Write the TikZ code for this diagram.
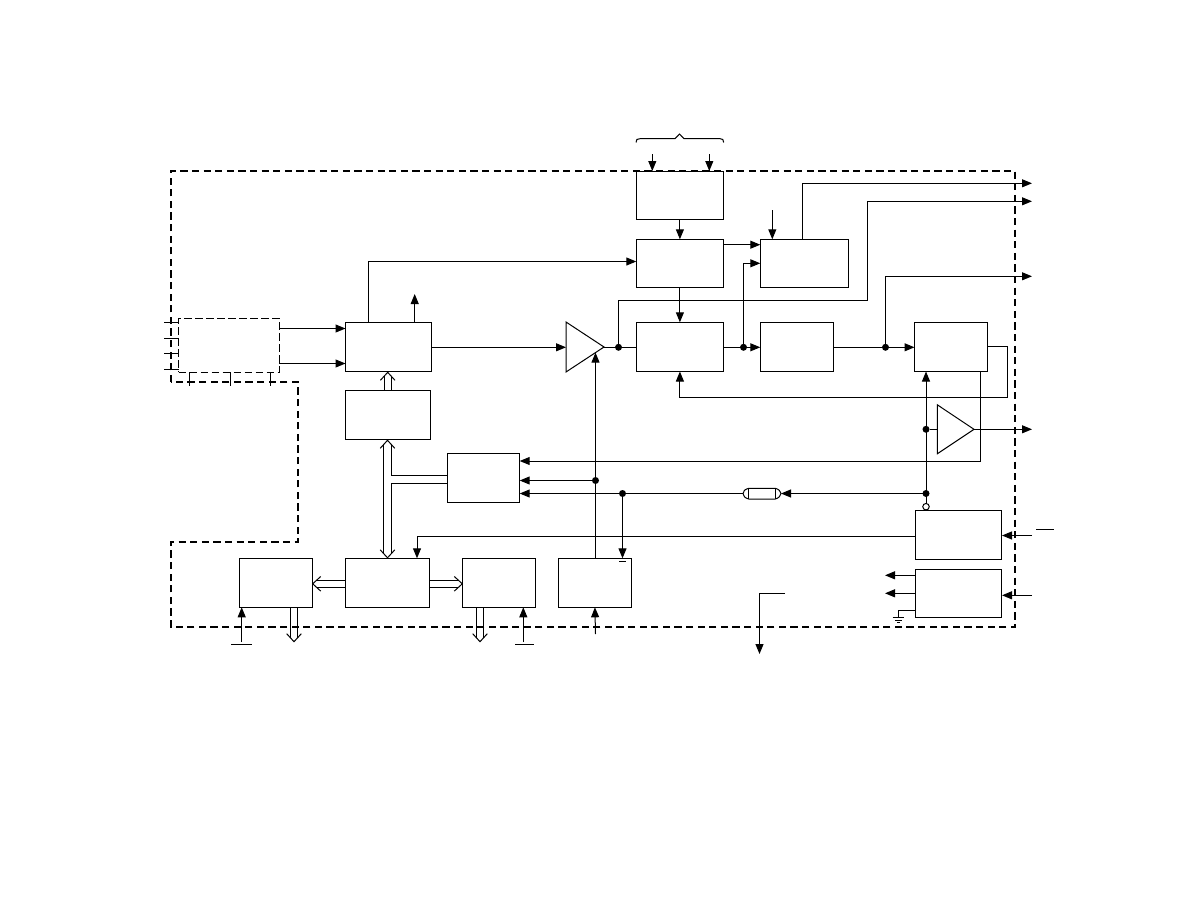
\documentclass[tikz,border=0pt]{standalone}
\usetikzlibrary{arrows.meta,calc,shapes.geometric}
\tikzset{
  blk/.style={draw,line width=1pt,rectangle,inner sep=0pt,outer sep=0pt},
  wire/.style={line width=1pt},
  arr/.style={line width=1pt,-{Triangle[length=10pt,width=8pt]}},
  jdot/.style={circle,fill=black,inner sep=0pt,outer sep=0pt,minimum size=7pt},
  outerdash/.style={line width=2.2pt,dash pattern=on 7.2pt off 4.4pt},
  innerdash/.style={line width=1pt,dash pattern=on 7.5pt off 3.5pt},
  amp/.style={draw,line width=1pt,isosceles triangle,isosceles triangle stretches,
     shape border rotate=0,inner sep=0pt,outer sep=0pt,anchor=apex},
}
\newcommand\bx[5]{\node[blk,minimum width={(#4-#2)*1pt},minimum height={(#5-#3)*1pt}] (#1) at ({(#2+#4)/2},{(#3+#5)/2}) {};}
% chevron head at tip #1, pointing away from #2
\newcommand\chev[2]{%
  \draw[wire] ($($(#1)!8pt!(#2)$)!7.3pt!90:(#1)$) -- (#1) -- ($($(#1)!8pt!(#2)$)!7.3pt!-90:(#1)$);}
% complete hollow arrow, tip #1, tail #2
\newcommand\hollow[2]{%
  \chev{#1}{#2}%
  \draw[wire] ($($(#1)!4pt!(#2)$)!3.7pt!90:(#2)$) -- ($(#2)!3.7pt!-90:(#1)$);
  \draw[wire] ($($(#1)!4pt!(#2)$)!3.7pt!-90:(#2)$) -- ($(#2)!3.7pt!90:(#1)$);}
\begin{document}
\begin{tikzpicture}[x=1pt,y=-1pt]
\useasboundingbox (0,0) rectangle (1188,918);
% boxes
\bx{H}{636.3}{171}{723.5}{219.3}
\bx{I}{636.3}{239.3}{723.5}{287.3}
\bx{K}{760.3}{239.3}{848.5}{287.3}
\bx{A}{345.5}{322.3}{431.5}{371.5}
\bx{J}{636.3}{322.3}{723.5}{371.5}
\bx{L}{760.3}{322.3}{833.5}{371.5}
\bx{M}{914.5}{322.3}{987.5}{371.5}
\bx{B}{345.5}{390.5}{430.5}{439.5}
\bx{C}{447.3}{453.3}{519.7}{502.3}
\bx{D}{239.3}{558.3}{312.7}{607.3}
\bx{E}{345.5}{558.3}{429.7}{607.3}
\bx{F}{462.3}{558.3}{535.5}{607.3}
\bx{G}{558.3}{558.3}{631.5}{607.3}
\bx{N}{915.3}{510.3}{1001.5}{559.3}
\bx{O}{915.3}{569.3}{1001.5}{617.5}
% dashed module
\node[draw,innerdash,rectangle,inner sep=0pt,outer sep=0pt,minimum width=100.6pt,minimum height=53.7pt] (Z) at (229,345.2) {};
% amplifiers
\node[amp,minimum width=50pt,minimum height=38pt] (T1) at (604,347) {};
\node[amp,minimum width=49pt,minimum height=36.7pt] (T2) at (974,429.3) {};
% outer dashed boundary
\draw[outerdash] (171,382) -- (171,171) -- (1015,171) -- (1015,627) -- (171,627) -- (171,542) -- (298,542) -- (298,382) -- cycle;
% guides
\coordinate (vA) at (368,0);
\coordinate (vAu) at (414.7,0);
\coordinate (vH1) at (652.3,0);
\coordinate (vH2) at (709.3,0);
\coordinate (vK) at (772.3,0);
\coordinate (vKu) at (802.3,0);
\coordinate (vT) at (618.5,0);
\coordinate (vFb) at (867.3,0);
\coordinate (vLb) at (743.5,0);
\coordinate (vM) at (885.5,0);
\coordinate (vS) at (926,0);
\coordinate (vMr) at (1007,0);
\coordinate (vMb) at (980.5,0);
\coordinate (vG) at (595.5,0);
\coordinate (vGb) at (622.5,0);
\coordinate (vE) at (417,0);
\coordinate (vOut) at (1032,0);
\coordinate (hMid) at (0,347.3);
\coordinate (hZ1) at (0,328.5);
\coordinate (hZ2) at (0,363.5);
\coordinate (hI) at (0,261.5);
\coordinate (hIK) at (0,244.7);
\coordinate (hLK) at (0,263.3);
\coordinate (hO1) at (0,183.3);
\coordinate (hO2) at (0,201.3);
\coordinate (hO3) at (0,276.3);
\coordinate (hO4) at (0,429.3);
\coordinate (hT) at (0,300.7);
\coordinate (hFb) at (0,397.5);
\coordinate (hMb) at (0,346);
\coordinate (hC1) at (0,461);
\coordinate (hC2) at (0,480.5);
\coordinate (hC3) at (0,493.5);
\coordinate (hN) at (0,536.7);
% junctions
\node[jdot] (d1) at (vT |- hMid) {};
\node[jdot] (d2) at (vLb |- hMid) {};
\node[jdot] (d3) at (vM |- hMid) {};
\node[jdot] (d4) at (vS |- hO4) {};
\node[jdot] (d5) at (vS |- hC3) {};
\node[jdot] (d6) at (vG |- hC2) {};
\node[jdot] (d7) at (vGb |- hC3) {};
% free ends
\coordinate (fH1) at (652.3,154);
\coordinate (fH2) at (709.3,154);
\coordinate (fK) at (772.3,210);
\coordinate (fAu) at (414.7,294);
\coordinate (fN) at (1032,535.5);
\coordinate (fNe) at (1002,535.5);
\coordinate (fO) at (1032,595.3);
\coordinate (fOe) at (1002,595.3);
\coordinate (fO1) at (885,575.3);
\coordinate (fO2) at (885,593.3);
\coordinate (fD) at (241.7,642);
\coordinate (fF) at (523.3,642);
\coordinate (fG) at (595.5,634);
\coordinate (gnd) at (898.3,610.3);
\coordinate (bus1) at (785,593.5);
\coordinate (bus2) at (759.5,593.5);
\coordinate (bus3) at (759.5,654);
% cable
\coordinate (cabL) at (743,493.5);
\coordinate (cabR) at (781,493.5);
\draw[wire] (748.7,488.3) -- (775.3,488.3) .. controls (778.7,489.3) and (780.7,491) .. (cabR) .. controls (780.7,496) and (778.7,498) .. (775.3,499) -- (748.7,499) .. controls (745,498) and (743,496) .. (cabL) .. controls (743,491) and (745,489.3) .. (748.7,488.3);
\draw[wire] (748.7,488.3) -- (748.7,499) (775.3,488.3) -- (775.3,499);
% bubble
\node[draw,circle,line width=1pt,inner sep=0pt,outer sep=0pt,minimum size=6.5pt] (bub) at (926,506.7) {};
% connectors
\draw[arr] (Z.east |- hZ1) -- (A.west |- hZ1);
\draw[arr] (Z.east |- hZ2) -- (A.west |- hZ2);
\draw[arr] (vA |- A.north) -- (vA |- hI) -- (I.west |- hI);
\draw[arr] (vAu |- A.north) -- (fAu);
\draw[arr] (A.east |- hMid) -- (T1.west |- hMid);
\draw[arr] (fH1) -- (vH1 |- H.north);
\draw[arr] (fH2) -- (vH2 |- H.north);
\draw[arr] (H) -- (I);
\draw[arr] (I) -- (J);
\draw[arr] (I.east |- hIK) -- (K.west |- hIK);
\draw[arr] (fK) -- (vK |- K.north);
\draw[arr] (vKu |- K.north) -- (vKu |- hO1) -- (vOut |- hO1);
\draw[wire] (T1.apex) -- (J.west |- T1.apex);
\draw[arr] (d1) -- (vT |- hT) -- (vFb |- hT) -- (vFb |- hO2) -- (vOut |- hO2);
\draw[wire] (J.east |- hMid) -- (d2);
\draw[arr] (d2) -- (L.west |- hMid);
\draw[arr] (d2) -- (vLb |- hLK) -- (K.west |- hLK);
\draw[wire] (L.east |- hMid) -- (d3);
\draw[arr] (d3) -- (M.west |- hMid);
\draw[arr] (d3) -- (vM |- hO3) -- (vOut |- hO3);
\draw[arr] (M.east |- hMb) -- (vMr |- hMb) -- (vMr |- hFb) -- (J.south |- hFb) -- (J.south);
\draw[arr] (vMb |- M.south) -- (vMb |- hC1) -- (C.east |- hC1);
\draw[arr] (bub.north) -- (vS |- M.south);
\draw[wire] (d4) -- (T2.west |- d4);
\draw[arr] (T2.apex) -- (vOut |- T2.apex);
\draw[arr] (d5) -- (cabR);
\draw[wire] (cabL) -- (d7);
\draw[arr] (d7) -- (C.east |- hC3);
\draw[arr] (d6) -- (C.east |- hC2);
\draw[arr] (vGb |- d7) -- (vGb |- G.north);
\draw[arr] (vG |- G.north) -- (vG |- {$(T1.apex)+(0,5.6)$});
\draw[arr] (N.west |- hN) -- (vE |- hN) -- (vE |- E.north);
\draw[arr] (fN) -- (fNe);
\draw[arr] (fO) -- (fOe);
\draw[arr] (O.west |- fO1) -- (fO1);
\draw[arr] (O.west |- fO2) -- (fO2);
\draw[wire] (O.west |- gnd) -- (gnd) -- (898.3,617);
\draw[wire] (892.7,617) -- (904,617) (895,620) -- (901.7,620) (896.8,622.7) -- (899.8,622.7);
\draw[arr] (fD) -- (D.south -| fD);
\draw[arr] (fF) -- (F.south -| fF);
\draw[arr] (fG) -- (G.south);
\draw[arr] (bus1) -- (bus2) -- (bus3);
% bars
\draw[wire] (231.3,644.3) -- (252,644.3) (515,644.3) -- (534,644.3) (1036,529.3) -- (1054,529.3) (619,561.3) -- (626,561.3);
% brace
\coordinate (brL) at (636,142.5);
\coordinate (brR) at (723.7,142.5);
\coordinate (brT) at (679.5,134);
\draw[wire] (brL) .. controls (636,139.5) and (637,138.7) .. (640,138.7) -- (675,138.7) -- (brT) -- (684,138.7) -- (720,138.7) .. controls (722.5,138.7) and (723.7,139.5) .. (brR);
% module pins
\draw[wire] (164,322.3) -- (178.5,322.3) (164,338.5) -- (178.5,338.5) (164,353.5) -- (178.5,353.5) (164,369.5) -- (178.5,369.5);
\draw[wire] (189.5,372) -- (189.5,385.5) (230.5,372) -- (230.5,385.5) (270.5,372) -- (270.5,385.5);
% hollow buses
\coordinate (tipAB) at (387.7,372.3);
\coordinate (tailAB) at (387.7,390.5);
\hollow{tipAB}{tailAB}
\coordinate (tipBu) at (387.5,440.3);
\coordinate (tipBd) at (387.5,557.8);
\chev{tipBu}{tipBd}
\chev{tipBd}{tipBu}
\draw[wire] (383.5,444.5) -- (383.5,553.5);
\draw[wire] (391.3,444.5) -- (391.3,475.3) -- (C.west |- 0,475.3);
\draw[wire] (391.3,553.5) -- (391.3,483.3) -- (C.west |- 0,483.3);
\coordinate (hh) at (0,583.8);
\hollow{D.east |- hh}{E.west |- hh}
\hollow{F.west |- hh}{E.east |- hh}
\coordinate (tipD) at (294,641.7);
\coordinate (tipF) at (480,641.7);
\hollow{tipD}{D.south -| tipD}
\hollow{tipF}{F.south -| tipF}
\end{tikzpicture}
\end{document}
